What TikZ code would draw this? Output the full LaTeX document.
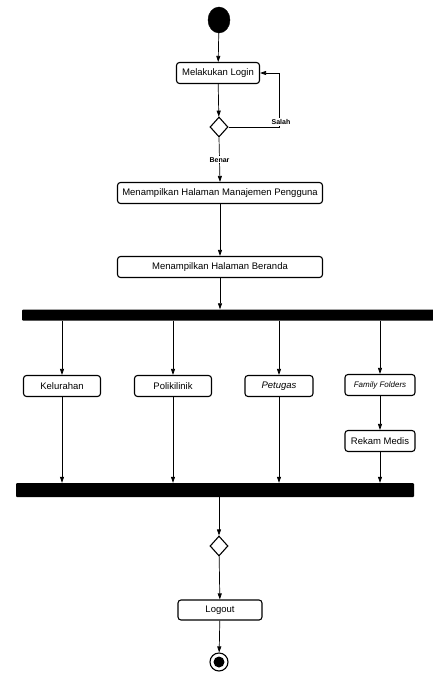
\documentclass[tikz,border=0pt]{standalone}
\usepackage{fontspec}
\setmainfont{Liberation Sans}
\usetikzlibrary{arrows.meta,shapes.geometric}

\begin{document}
\begin{tikzpicture}[x=1pt,y=-1pt,
    every node/.append style={font=\fontsize{9.5}{11}\selectfont},
    act/.style={draw,rectangle,rounded corners=3pt,line width=1.1pt,minimum height=21pt,inner sep=2pt},
    bar/.style={fill=black,rectangle,rounded corners=1pt,inner sep=0pt},
    dec/.style={draw,diamond,line width=1.1pt,inner sep=0pt,minimum width=18pt,minimum height=20pt},
    flow/.style={-{Triangle[length=6pt,width=4pt]},line width=0.7pt},
    guard/.style={fill=white,inner sep=1pt,font=\fontsize{7}{8}\selectfont\bfseries}]
      \clip (0,0) rectangle (433,673);

      \node[ellipse,fill=black,draw,minimum width=22pt,minimum height=26pt,inner sep=0pt] (start) at (219,20) {};
      \node[act,minimum width=83pt] (login) at (218,73) {Melakukan Login};
      \node[dec] (cek) at (219,127) {};
      \node[act,minimum width=205pt] (manajemen) at (220,193) {Menampilkan Halaman Manajemen Pengguna};
      \node[act,minimum width=205pt] (beranda) at (220,267) {Menampilkan Halaman Beranda};

      \node[bar,minimum width=418pt,minimum height=11pt] (fork) at (231,315) {};

      \node[act,minimum width=77pt] (kelurahan) at (62,386) {Kelurahan};
      \node[act,minimum width=77pt] (poli) at (173,386) {Polikilinik};
      \node[act,minimum width=68pt] (petugas) at (279,386) {\itshape Petugas};
      \node[act,minimum width=70pt,font=\fontsize{8}{10}\selectfont\itshape] (family) at (380,385) {Family Folders};
      \node[act,minimum width=70pt] (rekam) at (380,441) {Rekam Medis};

      \node[bar,minimum width=398pt,minimum height=14pt] (join) at (215,490) {};

      \node[dec] (gabung) at (219,546) {};
      \node[act,minimum width=84pt,minimum height=20pt] (logout) at (220,610) {Logout};
      \node[circle,draw,line width=1.1pt,minimum size=18pt,inner sep=0pt] (stop) at (219,662) {};
      \fill (stop) circle (5.5pt);

      \draw [flow] (start)--(login);
      \draw [flow] (login)--(cek);
      \draw [flow] (cek.east)--(279,127)--(279,73)--(login.east);
      \node[guard] (salah) at (281,122) {Salah};
      \draw [flow] (cek.south)--node [guard] {Benar} (manajemen.north);
      \draw [flow] (manajemen)--(beranda);
      \draw [flow] (beranda)--(beranda.south |- fork.north);

      \draw [flow] (fork.south -| kelurahan.north)--(kelurahan.north);
      \draw [flow] (fork.south -| poli.north)--(poli.north);
      \draw [flow] (fork.south -| petugas.north)--(petugas.north);
      \draw [flow] (fork.south -| family.north)--(family.north);
      \draw [flow] (family)--(rekam);

      \draw [flow] (kelurahan.south)--(kelurahan.south |- join.north);
      \draw [flow] (poli.south)--(poli.south |- join.north);
      \draw [flow] (petugas.south)--(petugas.south |- join.north);
      \draw [flow] (rekam.south)--(rekam.south |- join.north);

      \draw [flow] (join.south -| gabung.north)--(gabung.north);
      \draw [flow] (gabung)--(logout);
      \draw [flow] (logout)--(stop);
    \end{tikzpicture}
\end{document}
